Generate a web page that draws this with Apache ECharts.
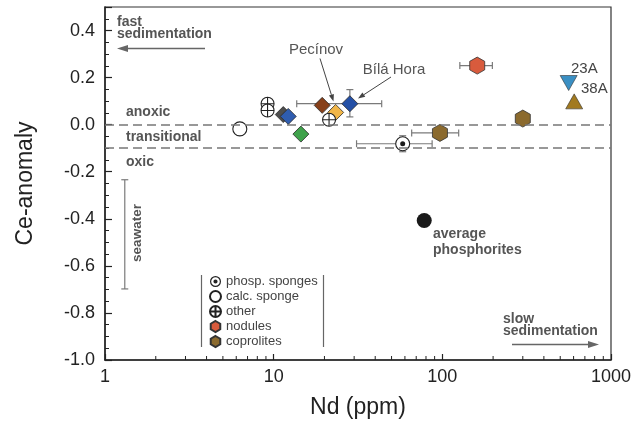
<!DOCTYPE html>
<html>
<head>
<meta charset="utf-8">
<script src="https://cdn.jsdelivr.net/npm/echarts@6/dist/echarts.min.js"></script>
<style>
html, body { margin: 0; padding: 0; background: #fff; }
#chart { width: 643px; height: 428px; }
</style>
</head>
<body>
<div id="chart"></div>
<script>
// Nd (ppm), Ce-anomaly pairs
var phospSponge = [[58.2, -0.081]];
var calcSponge = [[6.3, -0.018]];
var otherSamples = [[9.2, 0.089], [9.2, 0.060], [21.3, 0.021]];
var nodules = [[161, 0.251]];
var coprolites = [[96.8, -0.035], [300, 0.026]];
var diamondNd = [11.4, 12.2, 14.5, 19.4, 23.3, 28.3];
var diamondCe = [0.043, 0.035, -0.04, 0.082, 0.052, 0.089];
var sample23A = [[561, 0.177]];
var sample38A = [[605, 0.099]];
var avgPhosphorites = [[78.1, -0.407]];
// horizontal error bars: Nd, Ce, Nd low, Nd high
var xErrors = [[28.3, 0.089, 13.7, 43.7], [58.2, -0.081, 31, 87], [161, 0.251, 127, 198], [96.8, -0.035, 65.8, 125]];
// vertical error bars: Nd, Ce low, Ce high
var yErrors = [[28.3, 0.033, 0.149], [58.2, -0.115, -0.047]];
var seawaterRange = [[1.31, -0.234, -0.698]];
var redoxLimits = [0, -0.1];
var xMinorTicks = [2, 3, 4, 5, 6, 7, 8, 9, 20, 30, 40, 50, 60, 70, 80, 90, 200, 300, 400, 500, 600, 700, 800, 900];

var diamondColors = ['#4d4d4d', '#2f5db0', '#3fa24b', '#87401a', '#f1b648', '#2450a6'];
var FONT = '"Liberation Sans", Arial, sans-serif';
var HEX = 'path://M0,-1 L0.866,-0.5 L0.866,0.5 L0,1 L-0.866,0.5 L-0.866,-0.5 Z';
var CROSS_CIRCLE = 'path://M-1,0 A1,1 0 1 1 1,0 A1,1 0 1 1 -1,0 Z M-1,0 L1,0 M0,-1 L0,1';
var RING_DOT = 'path://M-1,0 A1,1 0 1 1 1,0 A1,1 0 1 1 -1,0 Z M-0.78,0 A0.78,0.78 0 1 0 0.78,0 A0.78,0.78 0 1 0 -0.78,0 Z M-0.38,0 A0.38,0.38 0 1 1 0.38,0 A0.38,0.38 0 1 1 -0.38,0 Z';

function capLine(x1, y1, x2, y2) {
	return { type: 'line', shape: { x1: x1, y1: y1, x2: x2, y2: y2 }, style: { stroke: '#7a7a7a', lineWidth: 1.2 } };
}

function arrow(x1, y1, x2, y2, len, half, color, w) {
	var dx = x2 - x1, dy = y2 - y1, d = Math.sqrt(dx * dx + dy * dy);
	var ux = dx / d, uy = dy / d;
	var bx = x2 - ux * len, by = y2 - uy * len;
	return [
		{ type: 'line', z: 10, shape: { x1: x1, y1: y1, x2: bx, y2: by }, style: { stroke: color, lineWidth: w } },
		{ type: 'polygon', z: 10, shape: { points: [[x2, y2], [bx - uy * half, by + ux * half], [bx + uy * half, by - ux * half]] }, style: { fill: color } }
	];
}

function label(text, x, y, opt) {
	opt = opt || {};
	return {
		type: 'text', z: 10, x: x, y: y, rotation: opt.rotation || 0,
		style: {
			text: text, x: 0, y: 0,
			fill: opt.color || '#555',
			font: (opt.bold ? 'bold ' : '') + (opt.size || 14) + 'px ' + FONT,
			textAlign: opt.align || 'left',
			textVerticalAlign: 'middle'
		}
	};
}

var graphics = [
	label('fast', 117, 22, { bold: true }),
	label('sedimentation', 117, 34.5, { bold: true }),
	label('slow', 503, 319.5, { bold: true }),
	label('sedimentation', 503, 331.5, { bold: true }),
	label('anoxic', 126, 112, { bold: true }),
	label('transitional', 126, 137, { bold: true }),
	label('oxic', 126, 162.5, { bold: true }),
	label('seawater', 137, 233, { bold: true, size: 13.5, align: 'center', rotation: Math.PI / 2 }),
	label('average', 433, 234.5, { bold: true }),
	label('phosphorites', 433, 250.5, { bold: true }),
	label('Pecínov', 316, 50, { size: 15, align: 'center' }),
	label('Bílá Hora', 394, 70, { size: 15, align: 'center' }),
	label('23A', 571, 68.5, { size: 15, color: '#444' }),
	label('38A', 581, 88.5, { size: 15, color: '#444' }),
	{ type: 'line', z: 10, shape: { x1: 201.5, y1: 275, x2: 201.5, y2: 347 }, style: { stroke: '#666', lineWidth: 1.2 } },
	{ type: 'line', z: 10, shape: { x1: 323.5, y1: 275, x2: 323.5, y2: 347 }, style: { stroke: '#666', lineWidth: 1.2 } }
]
	.concat(arrow(205, 48.5, 117, 48.5, 11, 3.5, '#666', 1.3))
	.concat(arrow(512, 344.5, 599, 344.5, 11, 3.5, '#666', 1.3))
	.concat(arrow(320, 58.5, 333.5, 101.5, 7, 2.6, '#444', 1))
	.concat(arrow(391, 77, 358, 98.5, 7, 2.6, '#444', 1));

var option = {
	animation: false,
	backgroundColor: '#fff',
	textStyle: { fontFamily: FONT },
	grid: { left: 105, right: 32, top: 7, bottom: 68, show: true, borderColor: '#333', borderWidth: 1.2 },
	legend: {
		orient: 'vertical', left: 204, top: 270, itemWidth: 11, itemHeight: 11, itemGap: 2,
		selectedMode: false,
		textStyle: { fontSize: 13, color: '#444', fontFamily: FONT },
		data: [
			{ name: 'phosp. sponges', icon: RING_DOT, itemStyle: { color: '#222', borderWidth: 0 } },
			{ name: 'calc. sponge' },
			{ name: 'other' },
			{ name: 'nodules' },
			{ name: 'coprolites' }
		]
	},
	xAxis: {
		type: 'log', logBase: 10, min: 1, max: 1000,
		name: 'Nd (ppm)', nameLocation: 'middle', nameGap: 36,
		nameTextStyle: { fontSize: 23, color: '#222', fontFamily: FONT },
		axisLine: { onZero: false, lineStyle: { color: '#222', width: 1.5 } },
		axisTick: { inside: true, length: 6, lineStyle: { color: '#222', width: 1.2 } },
		axisLabel: {
			fontSize: 18, color: '#222', margin: 8, fontFamily: FONT,
			formatter: function (v) { return String(Math.round(v)); }
		},
		splitLine: { show: false }
	},
	yAxis: [
		{
			type: 'value', min: -1, max: 0.5, interval: 0.2,
			name: 'Ce-anomaly', nameLocation: 'middle', nameRotate: 90, nameGap: 68,
			nameTextStyle: { fontSize: 23, color: '#222', fontFamily: FONT },
			axisLine: { onZero: false, lineStyle: { color: '#222', width: 1.5 } },
			axisTick: { inside: true, length: 7, lineStyle: { color: '#222', width: 1.2 } },
			axisLabel: {
				fontSize: 18, color: '#222', margin: 10, fontFamily: FONT,
				formatter: function (v) { return v > 0.45 ? '' : v.toFixed(1); }
			},
			splitLine: { show: false }
		},
		{
			type: 'value', min: -1, max: 0.5, interval: 0.05, position: 'left',
			axisLine: { show: false, onZero: false },
			axisTick: { inside: true, length: 4, lineStyle: { color: '#222', width: 1 } },
			axisLabel: { show: false },
			splitLine: { show: false }
		}
	],
	graphic: graphics,
	series: [
		{
			name: 'x minor ticks', type: 'custom', silent: true, z: 1,
			data: xMinorTicks.map(function (v) { return [v, -1]; }),
			renderItem: function (params, api) {
				var p = api.coord([api.value(0), api.value(1)]);
				return { type: 'line', shape: { x1: p[0], y1: p[1], x2: p[0], y2: p[1] - 4 }, style: { stroke: '#222', lineWidth: 1 } };
			}
		},
		{
			name: 'x errors', type: 'custom', silent: true, z: 1,
			data: xErrors,
			renderItem: function (params, api) {
				var a = api.coord([api.value(2), api.value(1)]);
				var b = api.coord([api.value(3), api.value(1)]);
				return { type: 'group', children: [
					capLine(a[0], a[1], b[0], b[1]),
					capLine(a[0], a[1] - 3.5, a[0], a[1] + 3.5),
					capLine(b[0], b[1] - 3.5, b[0], b[1] + 3.5)
				] };
			}
		},
		{
			name: 'y errors', type: 'custom', silent: true, z: 1,
			data: yErrors.concat(seawaterRange),
			renderItem: function (params, api) {
				var a = api.coord([api.value(0), api.value(1)]);
				var b = api.coord([api.value(0), api.value(2)]);
				return { type: 'group', children: [
					capLine(a[0], a[1], b[0], b[1]),
					capLine(a[0] - 3.5, a[1], a[0] + 3.5, a[1]),
					capLine(b[0] - 3.5, b[1], b[0] + 3.5, b[1])
				] };
			}
		},
		{
			name: 'average phosphorites', type: 'scatter', z: 3,
			symbol: 'circle', symbolSize: 15,
			itemStyle: { color: '#1a1a1a', opacity: 1 },
			data: avgPhosphorites,
			markLine: {
				silent: true, symbol: 'none', label: { show: false },
				lineStyle: { color: '#777', type: [9, 5], width: 1.5 },
				data: redoxLimits.map(function (v) { return { yAxis: v }; })
			}
		},
		{
			name: 'diamonds', type: 'scatter', z: 3,
			symbol: 'diamond', symbolSize: [16, 16],
			data: diamondNd.map(function (nd, i) {
				return { value: [nd, diamondCe[i]], itemStyle: { color: diamondColors[i] } };
			}),
			itemStyle: { borderColor: '#2a2a2a', borderWidth: 0.8, opacity: 1 }
		},
		{
			name: 'calc. sponge', type: 'scatter', z: 4,
			symbol: 'circle', symbolSize: 14,
			itemStyle: { color: '#fff', borderColor: '#222', borderWidth: 1.1, opacity: 1 },
			data: calcSponge
		},
		{
			name: 'phosp. sponges', type: 'scatter', z: 4,
			symbol: 'circle', symbolSize: 14,
			itemStyle: { color: '#fff', borderColor: '#222', borderWidth: 1.1, opacity: 1 },
			data: phospSponge
		},
		{
			name: 'phosp. sponges dot', type: 'scatter', z: 5,
			symbol: 'circle', symbolSize: 5,
			itemStyle: { color: '#1a1a1a', opacity: 1 },
			data: phospSponge
		},
		{
			name: 'other', type: 'scatter', z: 4,
			symbol: CROSS_CIRCLE, symbolSize: 13,
			itemStyle: { color: '#fff', borderColor: '#222', borderWidth: 1.1, opacity: 1 },
			data: otherSamples
		},
		{
			name: 'nodules', type: 'scatter', z: 4,
			symbol: HEX, symbolSize: [15, 17],
			itemStyle: { color: '#d85b3d', borderColor: '#333', borderWidth: 0.8, opacity: 1 },
			data: nodules
		},
		{
			name: 'coprolites', type: 'scatter', z: 4,
			symbol: HEX, symbolSize: [15, 17],
			itemStyle: { color: '#8b6a2e', borderColor: '#333', borderWidth: 0.8, opacity: 1 },
			data: coprolites
		},
		{
			name: '23A', type: 'scatter', z: 4,
			symbol: 'triangle', symbolRotate: 180, symbolSize: [17, 15],
			itemStyle: { color: '#3a8fc3', borderColor: '#333', borderWidth: 0.6, opacity: 1 },
			data: sample23A
		},
		{
			name: '38A', type: 'scatter', z: 4,
			symbol: 'triangle', symbolSize: [17, 15],
			itemStyle: { color: '#a27a20', borderColor: '#333', borderWidth: 0.6, opacity: 1 },
			data: sample38A
		}
	]
};

var chart = echarts.init(document.getElementById('chart'), null, { renderer: 'canvas' });
chart.setOption(option);
</script>
</body>
</html>
